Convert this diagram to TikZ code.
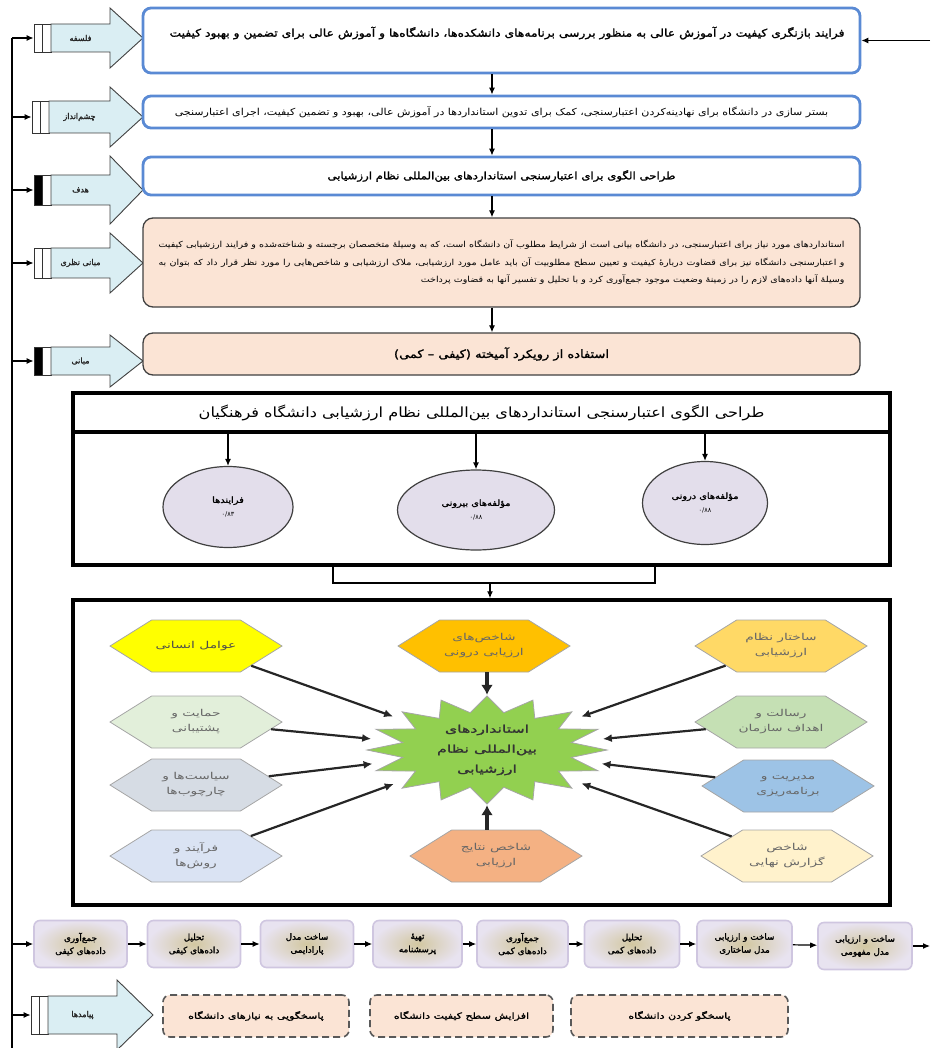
\documentclass[tikz,border=0pt]{standalone}
\usepackage{fontspec}
\usetikzlibrary{arrows.meta,shapes.geometric,shapes.symbols}
\TeXXeTstate=1
\newfontfamily\fa[Script=Arabic]{DejaVu Sans}
\newfontfamily\fab[Script=Arabic,FakeBold=1.6]{DejaVu Sans}
\newfontfamily\fas[Script=Arabic,FakeStretch=1.15]{DejaVu Sans}
\newfontfamily\fasb[Script=Arabic,FakeStretch=1.15,FakeBold=1.6]{DejaVu Sans}
\newfontfamily\fah[Script=Arabic,FakeStretch=1.45]{DejaVu Sans}
\newfontfamily\fahb[Script=Arabic,FakeStretch=1.5,FakeBold=1.8]{DejaVu Sans}
\newfontfamily\fao[Script=Arabic,FakeStretch=1.3,FakeBold=1.6]{DejaVu Sans}
\newcommand\ftx[1]{\beginR #1\endR}
\definecolor{boxblue}{HTML}{5A8AD4}
\definecolor{peach}{HTML}{FBE4D5}
\definecolor{arrowblue}{HTML}{DAEEF3}
\definecolor{lav}{HTML}{E3DEEB}
\definecolor{stargreen}{HTML}{92D050}
\definecolor{hyellow}{HTML}{FFFF00}
\definecolor{hgreenA}{HTML}{E2EFDA}
\definecolor{hgray}{HTML}{D6DCE4}
\definecolor{hblueA}{HTML}{DAE3F3}
\definecolor{hgold}{HTML}{FFD966}
\definecolor{hgreenB}{HTML}{C5E0B4}
\definecolor{hblueB}{HTML}{9DC3E6}
\definecolor{hlyellow}{HTML}{FFF2CC}
\definecolor{hamber}{HTML}{FFC000}
\definecolor{hsalmon}{HTML}{F4B183}
\definecolor{fin}{HTML}{D2C7A0}
\definecolor{fout}{HTML}{E8E3F0}
\definecolor{fdraw}{HTML}{CFC6E0}
\tikzset{
 mbox/.style={draw=boxblue, line width=2.8pt, rounded corners=8pt, fill=white, minimum width=717pt, inner sep=0pt},
 pbox/.style={draw=black!75, line width=1.3pt, rounded corners=10pt, fill=peach, minimum width=717pt, inner sep=0pt},
 bigbox/.style={draw=black, line width=3.5pt, minimum width=817pt, inner sep=0pt},
 ell/.style={ellipse, draw=black!75, line width=1.2pt, fill=lav, inner sep=0pt, align=center},
 hexs/.style={signal, signal to=east and west, signal pointer angle=64, draw=black!35, line width=0.8pt, minimum width=172pt, minimum height=52pt, inner sep=0pt, text=black!60, align=center, font=\fah\fontsize{9.5}{15}\selectfont},
 sarr/.style={line width=2.2pt, draw=black!85, -{Latex[length=9pt,width=8pt]}},
 barr/.style={line width=4pt, draw=black!85, -{Latex[length=10pt,width=12pt]}},
 arr/.style={line width=1.2pt, -{Latex[length=7pt,width=6pt]}},
 fbox/.style={rounded corners=6pt, draw=fdraw, line width=1.6pt, inner color=fin, outer color=fout, minimum width=93pt, minimum height=47pt, inner sep=0pt, align=center, font=\fab\fontsize{8.8}{13}\selectfont},
 obox/.style={dash pattern=on 7pt off 4pt, rounded corners=7pt, draw=black!65, line width=1.6pt, fill=peach, minimum height=42pt, inner sep=0pt, font=\fao\fontsize{8.5}{10}\selectfont},
 bar/.style={draw=black!80, line width=0.8pt, minimum width=8.5pt, inner sep=0pt},
 larrow/.style={draw=black!75, fill=arrowblue, line width=0.9pt},
 ltext/.style={font=\fab\fontsize{8}{10}\selectfont, text=black!85, inner sep=0pt},
}
% name, cy, text, left bar fill, x0, body end, tip, half body, half head
\newcommand\lblarrow[9]{%
 \node[bar, fill=#4, minimum height={2*#8pt}] (#1a) at (#5+4.25,#2) {};
 \node[bar, fill=white, minimum height={2*#8pt}] (#1b) at (#5+12.75,#2) {};
 \filldraw[larrow] (#5+17,#2-#8) -- (#6,#2-#8) -- (#6,#2-#9) -- (#7,#2) -- (#6,#2+#9) -- (#6,#2+#8) -- (#5+17,#2+#8) -- cycle;
 \node[ltext] (#1) at ({(#5+17+#6)/2},#2) {#3};
 \draw[arr] (#1a.west -| trunk) -- (#1a.west);
}
\begin{document}
\begin{tikzpicture}[x=1pt,y=-1pt]
\useasboundingbox (0,0) rectangle (930,1048);
\coordinate (trunk) at (12,38);
\coordinate (trunkbot) at (12,1048);
\draw[line width=1.2pt] (trunk) -- (trunkbot);

% left labels
\lblarrow{La}{38}{\ftx{فلسفه}}{white}{34}{110}{143}{14}{30}
\lblarrow{Lb}{117}{\ftx{چشم‌انداز}}{white}{32}{110}{143}{16}{30}
\lblarrow{Lc}{190}{\ftx{هدف}}{black}{34}{110}{143}{15}{34}
\lblarrow{Ld}{263}{\ftx{مبانی نظری}}{white}{34}{110}{143}{15}{30}
\lblarrow{Le}{361}{\ftx{مبانی}}{black}{34}{110}{143}{14}{26}
\lblarrow{Lf}{1015}{\ftx{پیامدها}}{white}{31}{117}{153}{19}{35}

% main boxes
\node[mbox, minimum height=65pt] (m1) at (501.5,40.5) {};
\node[font=\fasb\fontsize{10.7}{12}\selectfont, inner sep=0pt] (m1t) at (507,33) {\ftx{فرایند بازنگری کیفیت در آموزش عالی به منظور بررسی برنامه‌های دانشکده‌ها، دانشگاه‌ها و آموزش عالی برای تضمین و بهبود کیفیت}};
\node[mbox, minimum height=32pt, font=\fas\fontsize{9.6}{11}\selectfont] (m2) at (501.5,112) {\ftx{بستر سازی در دانشگاه برای نهادینه‌کردن اعتبارسنجی، کمک برای تدوین استانداردها در آموزش عالی، بهبود و تضمین کیفیت، اجرای اعتبارسنجی}};
\node[mbox, minimum height=38pt, font=\fasb\fontsize{10.2}{12}\selectfont] (m3) at (501.5,176) {\ftx{طراحی الگوی برای اعتبارسنجی استانداردهای بین‌المللی نظام ارزشیابی}};
\node[pbox, minimum height=89pt, align=right, font=\fas\fontsize{8.3}{17.5}\selectfont] (m4) at (501.5,262.5) {\makebox[686pt][s]{\ftx{استانداردهای مورد نیاز برای اعتبارسنجی، در دانشگاه بیانی است از شرایط مطلوب آن دانشگاه است، که به وسیلهٔ متخصصان برجسته و شناخته‌شده و فرایند ارزشیابی کیفیت}}\\ \makebox[686pt][s]{\ftx{و اعتبارسنجی دانشگاه نیز برای قضاوت دربارهٔ کیفیت و تعیین سطح مطلوبیت آن باید عامل مورد ارزشیابی، ملاک ارزشیابی و شاخص‌هایی را مورد نظر قرار داد که بتوان به}}\\ \ftx{وسیلهٔ آنها داده‌های لازم را در زمینهٔ وضعیت موجود جمع‌آوری کرد و با تحلیل و تفسیر آنها به قضاوت پرداخت}};
\node[pbox, minimum height=42pt, font=\fasb\fontsize{11.3}{13}\selectfont] (m5) at (501.5,354) {\ftx{استفاده از رویکرد آمیخته (کیفی – کمی)}};
\coordinate (ax) at (492,0);
\draw[arr] (m1.south -| ax) -- (m2.north -| ax);
\draw[arr] (m2.south -| ax) -- (m3.north -| ax);
\draw[arr] (m3.south -| ax) -- (m4.north -| ax);
\draw[arr] (m4.south -| ax) -- (m5.north -| ax);
\coordinate (rin) at (930,40.5);
\draw[arr] (rin) -- (m1.east);

% big box 1
\node[bigbox, minimum height=172pt] (B1) at (481.5,479) {};
\node[bigbox, minimum height=39pt, font=\fas\fontsize{14}{16}\selectfont] (T) at (481.5,412.5) {\ftx{طراحی الگوی اعتبارسنجی استانداردهای بین‌المللی نظام ارزشیابی دانشگاه فرهنگیان}};
\node[ell, minimum width=130pt, minimum height=81pt] (e1) at (228,507) {{\fasb\fontsize{8.5}{10}\selectfont\ftx{فرایندها}}\\[2pt]{\fa\fontsize{6.5}{8}\selectfont ۰/۸۳}};
\node[ell, minimum width=157pt, minimum height=80pt] (e2) at (476,510) {{\fasb\fontsize{8.5}{10}\selectfont\ftx{مؤلفه‌های بیرونی}}\\[2pt]{\fa\fontsize{6.5}{8}\selectfont ۰/۸۸}};
\node[ell, minimum width=125pt, minimum height=83pt] (e3) at (705,503) {{\fasb\fontsize{8.5}{10}\selectfont\ftx{مؤلفه‌های درونی}}\\[2pt]{\fa\fontsize{6.5}{8}\selectfont ۰/۸۸}};
\draw[arr] (T.south -| e1) -- (e1.north);
\draw[arr] (T.south -| e2) -- (e2.north);
\draw[arr] (T.south -| e3) -- (e3.north);

% bracket
\coordinate (bl) at (333,583);
\coordinate (br) at (655,583);
\coordinate (bm) at (490,583);
\draw[line width=1.2pt] (B1.south -| bl) -- (bl) -- (br) -- (B1.south -| br);

% big box 2
\node[bigbox, minimum height=305pt] (B2) at (481.5,752.5) {};
\draw[arr] (bm) -- (B2.north -| bm);

% star
\filldraw[fill=stargreen, draw=black!35, line width=0.8pt] plot[samples at={0,...,31}] ({487+(mod(\x,2)==0 ? 120 : 86)*cos(90+\x*11.25)}, {750-(mod(\x,2)==0 ? 54 : 38)*sin(90+\x*11.25)}) -- cycle;
\node[ellipse, minimum width=236pt, minimum height=110pt, inner sep=0pt, align=center, text=black!80, font=\fahb\fontsize{10.5}{20}\selectfont] (star) at (487,750) {\ftx{استانداردهای}\\\ftx{بین‌المللی نظام}\\\ftx{ارزشیابی}};

% hexagons
\node[hexs, fill=hyellow, text=black!70] (l1) at (196,646) {\ftx{عوامل انسانی}};
\node[hexs, fill=hgreenA] (l2) at (196,722) {\ftx{حمایت و}\\\ftx{پشتیبانی}};
\node[hexs, fill=hgray] (l3) at (196,785) {\ftx{سیاست‌ها و}\\\ftx{چارچوب‌ها}};
\node[hexs, fill=hblueA] (l4) at (196,856) {\ftx{فرآیند و}\\\ftx{روش‌ها}};
\node[hexs, fill=hgold] (r1) at (781,646) {\ftx{ساختار نظام}\\\ftx{ارزشیابی}};
\node[hexs, fill=hgreenB] (r2) at (781,722) {\ftx{رسالت و}\\\ftx{اهداف سازمان}};
\node[hexs, fill=hblueB] (r3) at (788,786) {\ftx{مدیریت و}\\\ftx{برنامه‌ریزی}};
\node[hexs, fill=hlyellow] (r4) at (787,856) {\ftx{شاخص}\\\ftx{گزارش نهایی}};
\node[hexs, fill=hamber] (ht) at (484,646) {\ftx{شاخص‌های}\\\ftx{ارزیابی درونی}};
\node[hexs, fill=hsalmon] (hb) at (496,856) {\ftx{شاخص نتایج}\\\ftx{ارزیابی}};
\foreach \h in {l1,l2,l3,l4,r1,r2,r3,r4} \draw[sarr] (\h) -- (star);
\draw[barr] (ht.south -| star) -- (star.north);
\draw[barr] (hb.north -| star) -- (star.south);

% bottom flow
\node[fbox] (f1) at (80.5,944) {\ftx{جمع‌آوری}\\\ftx{داده‌های کیفی}};
\node[fbox] (f2) at (194,944) {\ftx{تحلیل}\\\ftx{داده‌های کیفی}};
\node[fbox] (f3) at (307,944) {\ftx{ساخت مدل}\\\ftx{پارادایمی}};
\node[fbox, minimum width=89pt] (f4) at (417.5,944) {\ftx{تهیهٔ}\\\ftx{پرسشنامه}};
\node[fbox, minimum width=91pt] (f5) at (522.5,944) {\ftx{جمع‌آوری}\\\ftx{داده‌های کمی}};
\node[fbox, minimum width=95pt] (f6) at (632,944) {\ftx{تحلیل}\\\ftx{داده‌های کمی}};
\node[fbox, minimum width=95pt] (f7) at (744.5,944) {\ftx{ساخت و ارزیابی}\\\ftx{مدل ساختاری}};
\node[fbox, minimum width=94pt] (f8) at (865,946) {\ftx{ساخت و ارزیابی}\\\ftx{مدل مفهومی}};
\draw[arr] (f1.west -| trunk) -- (f1.west);
\foreach \a/\b in {f1/f2,f2/f3,f3/f4,f4/f5,f5/f6,f6/f7,f7/f8} \draw[arr] (\a) -- (\b);
\coordinate (rout) at (930,946);
\draw[arr] (f8) -- (rout);

% outputs
\node[obox, minimum width=186pt] (o1) at (256,1016) {\ftx{پاسخگویی به نیازهای دانشگاه}};
\node[obox, minimum width=183pt] (o2) at (461.5,1016) {\ftx{افزایش سطح کیفیت دانشگاه}};
\node[obox, minimum width=217pt] (o3) at (679.5,1016) {\ftx{پاسخگو کردن دانشگاه}};
\end{tikzpicture}
\end{document}
